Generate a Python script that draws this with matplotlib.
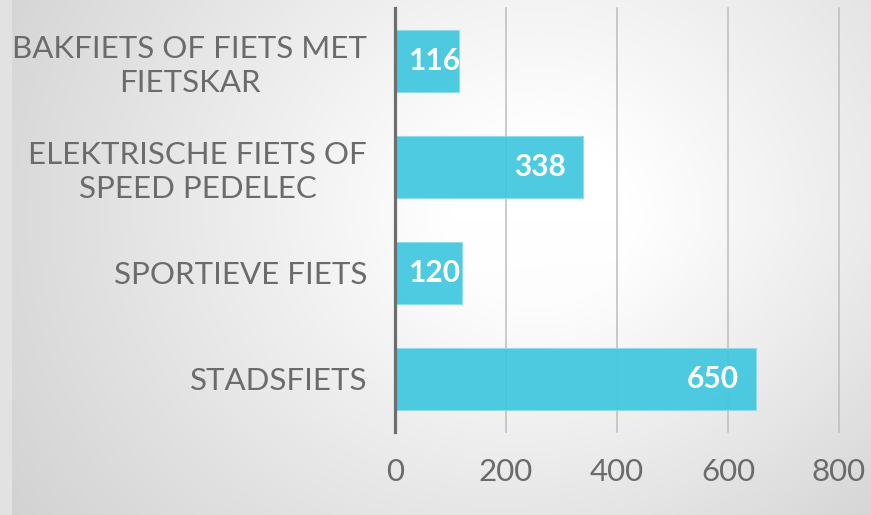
import numpy as np
import matplotlib
matplotlib.use("Agg")
import matplotlib.pyplot as plt

plt.rcParams['font.family'] = ['Lato', 'DejaVu Sans']

categories = ["BAKFIETS OF FIETS MET\nFIETSKAR",
              "ELEKTRISCHE FIETS OF\nSPEED PEDELEC",
              "SPORTIEVE FIETS",
              "STADSFIETS"]
values = [116, 338, 120, 650]
xticks = [0, 200, 400, 600, 800]

W, H = 871, 515
fig = plt.figure(figsize=(W / 100, H / 100), dpi=100)

# background gradient
bg = fig.add_axes([0, 0, 1, 1], zorder=-10)
yy, xx = np.mgrid[0:H, 0:W]
cx, cy = 540.0, 220.0
r = np.sqrt(((xx - cx) / 1.0) ** 2 + ((yy - cy) / 0.95) ** 2)
drop = 0.085 * np.clip(r - 90, 0, None) + 0.035 * np.clip(yy - 220, 0, None) * (xx / W)
g = np.clip(255 - drop, 185, 255) / 255.0
g[:, :12] = 0.89
img = np.dstack([g, g, g])
bg.imshow(img, extent=[0, W, H, 0], aspect='auto', interpolation='bilinear')
bg.set_xlim(0, W)
bg.set_ylim(H, 0)
bg.axis('off')

left, right, top, bottom = 395, 839, 8, 432
ax = fig.add_axes([left / W, 1 - bottom / H, (right - left) / W, (bottom - top) / H])
ax.patch.set_alpha(0)
for s in ax.spines.values():
    s.set_visible(False)

ypos = np.arange(len(categories))
ax.barh(ypos, values, height=0.585, color='#3fc6df', alpha=0.92,
        edgecolor='#8fdcea', linewidth=0.8, zorder=2)

for xt in xticks[1:]:
    ax.axvline(xt, color='#bdbdbd', lw=1.1, zorder=1, clip_on=False)
ax.axvline(0, color='#6e6e6e', lw=2.3, zorder=3, clip_on=False)

ax.set_xlim(0, 800)
ax.set_ylim(len(categories) - 0.5, -0.5)
ax.set_xticks(xticks)
ax.set_xticklabels([str(t) for t in xticks])
ax.set_yticks(ypos)
ax.set_yticklabels(categories, linespacing=1.22, multialignment='center')
ax.tick_params(axis='x', length=0, pad=19, labelsize=22.5, labelcolor='#6b6b6b')
ax.tick_params(axis='y', length=0, pad=20, labelsize=22.5, labelcolor='#6b6b6b')

fig.canvas.draw()
renderer = fig.canvas.get_renderer()
x0_px = ax.transData.transform((0, 0))[0]
for i, v in enumerate(values):
    t = ax.annotate(str(v), xy=(v, i), xytext=(-12.2, 0), textcoords='offset points',
                    ha='right', va='center', color='white', fontsize=21.5,
                    fontweight='bold', zorder=5)
    bb = t.get_window_extent(renderer)
    if bb.x0 < x0_px + 18:
        t.remove()
        ax.annotate(str(v), xy=(0, i), xytext=(9.5, 0), textcoords='offset points',
                    ha='left', va='center', color='white', fontsize=21.5,
                    fontweight='bold', zorder=5)

fig.savefig("out.png", dpi=100)
